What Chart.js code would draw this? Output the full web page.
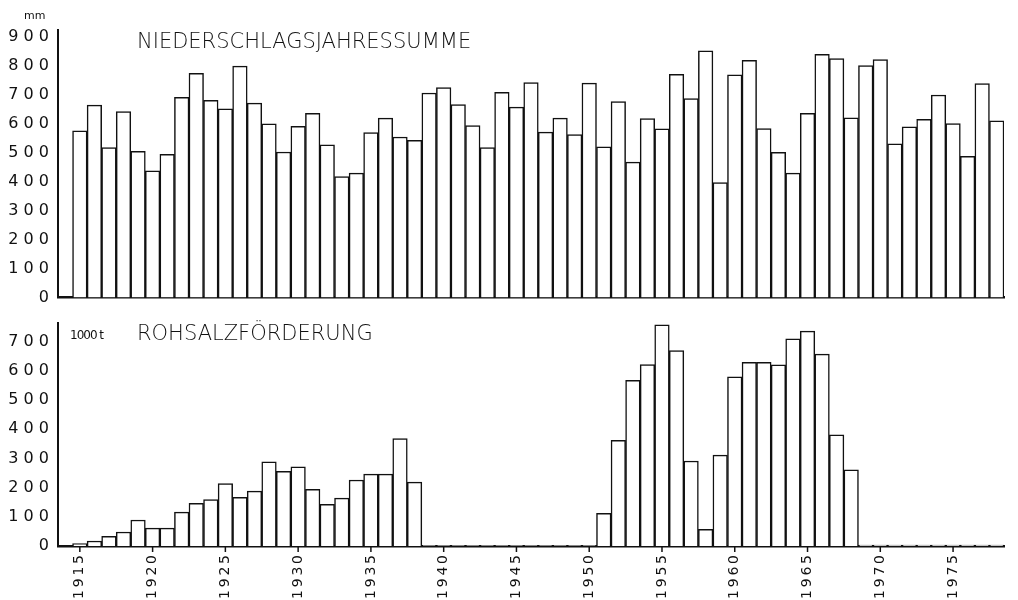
<!DOCTYPE html>
<html><head><meta charset="utf-8">
<script src="https://cdn.jsdelivr.net/npm/chart.js@4"></script>
<style>
body{margin:0;background:#fff;width:1018px;height:600px;position:relative;overflow:hidden;font-family:"DejaVu Sans",sans-serif;}
.w{position:absolute;left:0;width:1018px;}
.t{position:absolute;color:#111;white-space:nowrap;}
</style></head><body>
<div class="w" style="top:0;height:310px"><canvas id="c1"></canvas></div>
<div class="w" style="top:310px;height:290px"><canvas id="c2"></canvas></div>
<div class="t" style="left:24px;top:9px;font-size:11px">mm</div>
<div class="t" style="left:137px;top:29px;font-size:21px;font-weight:300">NIEDERSCHLAGSJAHRESSUMME</div>
<div class="t" style="left:70px;top:328px;font-size:12px;letter-spacing:-1px">1000 t</div>
<div class="t" style="left:137px;top:321px;font-size:21px;font-weight:300">ROHSALZFÖRDERUNG</div>
<script>
const years = [];
for (let y = 1914; y <= 1978; y++) years.push(y);
const precipitation = [0,
 576,665,518,643,505,438,495,692,775,682,
 652,800,672,600,503,592,637,528,418,430,
 570,620,555,543,707,726,667,594,518,709,
 658,743,572,620,563,741,521,677,468,619,
 583,772,688,853,397,770,820,584,502,430,
 637,841,826,621,802,823,531,590,616,700,
 601,488,740,611];
const saltProduction = [0,
 8,17,33,48,89,61,61,116,146,159,
 214,167,188,288,256,271,194,143,164,226,
 246,246,368,219,2,2,2,2,2,2,
 2,2,2,2,2,2,112,362,567,621,
 757,669,291,57,311,579,629,629,620,709,
 736,657,381,261,3,3,3,3,3,3,
 3,3,3,3];

const font = {family:'"DejaVu Sans", sans-serif', size:16};
const yearLabels = {
  id:'yearLabels',
  afterDraw(chart, args, opts){
    if(!opts.on) return;
    const ctx = chart.ctx, x = chart.scales.x, yb = chart.chartArea.bottom;
    ctx.save();
    ctx.fillStyle = '#111'; ctx.strokeStyle = '#111'; ctx.lineWidth = 1.5;
    ctx.font = '14px "DejaVu Sans", sans-serif';
    years.forEach((y,i)=>{
      if(y%5!==0) return;
      const px = x.getPixelForValue(i);
      ctx.beginPath(); ctx.moveTo(px, yb); ctx.lineTo(px, yb+6); ctx.stroke();
      ctx.save(); ctx.translate(px, yb+9); ctx.rotate(-Math.PI/2);
      ctx.textAlign='right'; ctx.textBaseline='middle';
      ctx.fillText(String(y).split('').join('\u2009'), 0, 0);
      ctx.restore();
    });
    ctx.restore();
  }
};
function mk(id, data, max, bottom){
  new Chart(document.getElementById(id), {
    type:'bar',
    data:{labels:years, datasets:[{data:data, backgroundColor:'#fff', borderColor:'#111', borderWidth:1.5,
      barPercentage:1, categoryPercentage:1, borderSkipped:'bottom'}]},
    plugins:[yearLabels],
    options:{
      responsive:true, maintainAspectRatio:false, animation:false,
      plugins:{legend:{display:false}, tooltip:{enabled:false}, yearLabels:{on:bottom}},
      layout:{padding:{top: bottom?6:30, right:14, left:0, bottom:0}},
      scales:{
        x:{
          grid:{display:false, drawTicks:false},
          border:{display:true, color:'#111', width:2.5},
          ticks:{display:false},
          afterFit:function(s){ s.height = bottom?54:5; }
        },
        y:{
          min:0, max:max,
          grid:{display:false, drawTicks:true, tickLength:6, color:'#111'},
          border:{display:true, color:'#111', width:2},
          afterBuildTicks:function(s){ const t=[]; for(let v=0; v<=s.max; v+=100) t.push({value:v}); s.ticks=t; },
          ticks:{color:'#111', font:font, padding:3,
            callback:function(v){ return String(v).split('').join(' '); }},
          afterFit:function(s){ s.width = 58; }
        }
      }
    }
  });
}
mk('c1', precipitation, 925, false);
mk('c2', saltProduction, 765, true);
</script>
</body></html>
